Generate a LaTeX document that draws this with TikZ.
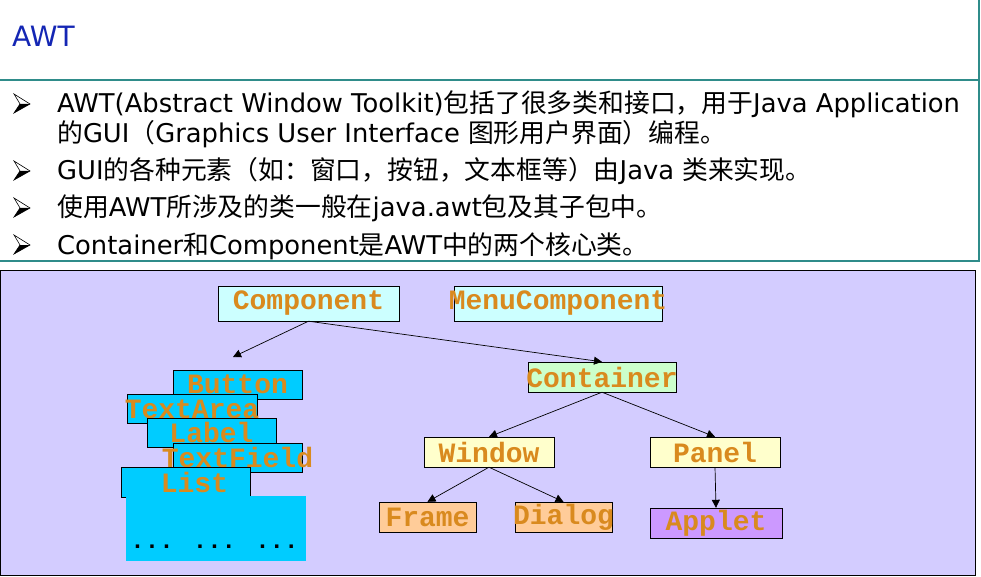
\documentclass[tikz,border=0pt]{standalone}
\usepackage{fontspec}
\setmainfont{DejaVu Sans}
\newfontfamily\cjk{Noto Sans CJK SC}
\newfontfamily\codefont{Liberation Mono}
\usetikzlibrary{arrows.meta,positioning}
\definecolor{teal}{HTML}{2F8C8A}
\definecolor{titleblue}{HTML}{1426B4}
\definecolor{panel}{HTML}{D3CCFF}
\definecolor{orangetxt}{HTML}{D98A1E}
\definecolor{cyanbox}{HTML}{00CCFF}
\definecolor{lightcyan}{HTML}{CCFFFF}
\definecolor{lightgreen}{HTML}{CCFFCC}
\definecolor{lightyellow}{HTML}{FFFFCC}
\definecolor{peach}{HTML}{FFCC99}
\definecolor{lilac}{HTML}{CC99FF}
\newcommand{\pointer}[1]{\draw[line width=.6pt,fill=white] (14,#1-10)--(30,#1)--(14,#1+9)--(20,#1)--cycle;\fill (20,#1)--(30,#1)--(14,#1+9)--cycle;}
\tikzset{
  line/.style={anchor=base west,inner sep=0,font=\fontsize{25.8}{30}\selectfont},
  cls/.style={draw=black,fill=#1,inner sep=0,text=orangetxt,font=\codefont\bfseries\fontsize{28}{28}\selectfont},
  arr/.style={-{Triangle[length=8pt,width=8pt]},line width=.7pt}
}

\begin{document}
\begin{tikzpicture}[x=1pt,y=-1pt]
\useasboundingbox (0,0) rectangle (981,577);
\fill[white] (0,0) rectangle (981,577);
% title and bullet text
\node[anchor=base west,inner sep=0,text=titleblue,font=\fontsize{28}{30}\selectfont] (title) at (12,47) {AWT};
\draw[teal,line width=2pt] (0,80)--(979,80);\draw[teal,line width=1.5pt] (979,0)--(979,261)--(0,261);
\pointer{104}\pointer{171}\pointer{208}\pointer{245}
\node[line] (l1) at (57,112.7) {AWT(Abstract Window Toolkit){\cjk 包括了很多类和接口，用于}Java Application};
\node[line] (l2) at (57,142.7) {{\cjk 的}GUI{\cjk （}Graphics User Interface {\cjk 图形用户界面）编程。}};
\node[line] (l3) at (57,180) {GUI{\cjk 的各种元素（如：窗口，按钮，文本框等）由}Java {\cjk 类来实现。}};
\node[line] (l4) at (57,216.7) {{\cjk 使用}AWT{\cjk 所涉及的类一般在}java.awt{\cjk 包及其子包中。}};
\node[line] (l5) at (57,254) {Container{\cjk 和}Component{\cjk 是}AWT{\cjk 中的两个核心类。}};
% class diagram
\draw[fill=panel] (0.5,270) rectangle (975,575.5);
\node[cls=lightcyan,minimum width=181,minimum height=35] (comp) at (308.5,303.5) {\makebox[0pt]{Component}};
\node[cls=lightcyan,minimum width=208,minimum height=35] (menu) at (558,303.5) {\makebox[0pt]{MenuComponent}};
\node[cls=lightgreen,minimum width=148,minimum height=30] (cont) at (602,377) {\makebox[0pt]{Container}};
\node[cls=lightyellow,minimum width=130,minimum height=30] (win) at (489,452) {\makebox[0pt]{Window}};
\node[cls=lightyellow,minimum width=130,minimum height=30] (pan) at (715,452) {\makebox[0pt]{Panel}};
\node[cls=peach,minimum width=97,minimum height=30] (frame) at (427.5,517) {\makebox[0pt]{Frame}};
\node[cls=peach,minimum width=97,minimum height=30] (dialog) at (563.5,517) {\makebox[0pt]{Dialog}};
\node[cls=lilac,minimum width=132,minimum height=30] (applet) at (716,523) {\makebox[0pt]{Applet}};
% component stack
\node[cls=cyanbox,minimum width=129,minimum height=29] (button) at (237.5,384.5) {\makebox[0pt]{Button}};
\node[cls=cyanbox,minimum width=130,minimum height=29] (textarea) at (192,409) {\makebox[0pt]{TextArea}};
\node[cls=cyanbox,minimum width=129,minimum height=29] (label) at (211.5,432.5) {\makebox[0pt]{Label}};
\node[cls=cyanbox,minimum width=129,minimum height=29] (textfield) at (237.5,457.5) {\makebox[0pt]{TextField}};
\node[cls=cyanbox,minimum width=129,minimum height=30] (list) at (185.5,482) {\makebox[0pt]{\hspace{18pt}List}};
\fill[cyanbox] (126,496) rectangle (306,561);
\node[anchor=base,inner sep=0,font=\codefont\bfseries\fontsize{24}{24}\selectfont] (more) at (214.5,548) {... ... ...};
\coordinate (stack) at (233,357);
\draw[arr] (comp.south)--(stack);\draw[arr] (comp.south)--(cont.north);
\draw[arr] (cont.south)--(win.north);\draw[arr] (cont.south)--(pan.north);
\draw[arr] (win.south)--(frame.north);\draw[arr] (win.south)--(dialog.north);
\draw[arr] (pan.south)--(applet.north);
\end{tikzpicture}
\end{document}
